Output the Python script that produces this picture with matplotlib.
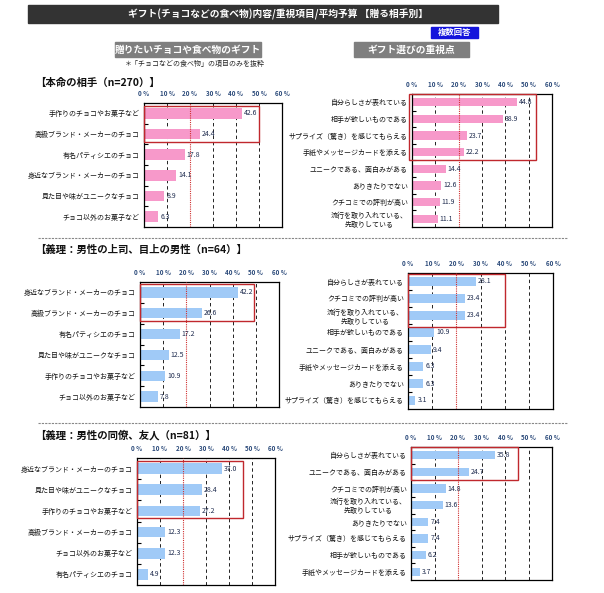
import matplotlib
matplotlib.use('Agg')
import matplotlib.pyplot as plt
from matplotlib.patches import Rectangle
import numpy as np

plt.rcParams['font.family'] = ['Noto Sans CJK JP', 'DejaVu Sans']

W, H = 604, 593

# ---------------- data ----------------
title = "ギフト(チョコなどの食べ物)内容/重視項目/平均予算 【贈る相手別】"
badge = "複数回答"
sub_left = "贈りたいチョコや食べ物のギフト"
sub_right = "ギフト選びの重視点"
note = "＊「チョコなどの食べ物」の項目のみを抜粋"
headers = ["【本命の相手（n=270）】",
           "【義理：男性の上司、目上の男性（n=64）】",
           "【義理：男性の同僚、友人（n=81）】"]
xticks = [0, 10, 20, 30, 40, 50, 60]
xtick_labels = ["0 %", "10 %", "20 %", "30 %", "40 %", "50 %", "60 %"]

cats_l1 = ["手作りのチョコやお菓子など", "高級ブランド・メーカーのチョコ", "有名パティシエのチョコ",
           "身近なブランド・メーカーのチョコ", "見た目や味がユニークなチョコ", "チョコ以外のお菓子など"]
vals_l1 = [42.6, 24.4, 17.8, 14.1, 8.9, 6.3]

cats_r1 = ["自分らしさが表れている", "相手が欲しいものである", "サプライズ（驚き）を感じてもらえる",
           "手紙やメッセージカードを添える", "ユニークである、面白みがある", "ありきたりでない",
           "クチコミでの評判が高い", "流行を取り入れている、\n先取りしている"]
vals_r1 = [44.8, 38.9, 23.7, 22.2, 14.4, 12.6, 11.9, 11.1]

cats_l2 = ["身近なブランド・メーカーのチョコ", "高級ブランド・メーカーのチョコ", "有名パティシエのチョコ",
           "見た目や味がユニークなチョコ", "手作りのチョコやお菓子など", "チョコ以外のお菓子など"]
vals_l2 = [42.2, 26.6, 17.2, 12.5, 10.9, 7.8]

cats_r2 = ["自分らしさが表れている", "クチコミでの評判が高い", "流行を取り入れている、\n先取りしている",
           "相手が欲しいものである", "ユニークである、面白みがある", "手紙やメッセージカードを添える",
           "ありきたりでない", "サプライズ（驚き）を感じてもらえる"]
vals_r2 = [28.1, 23.4, 23.4, 10.9, 9.4, 6.3, 6.3, 3.1]

cats_l3 = ["身近なブランド・メーカーのチョコ", "見た目や味がユニークなチョコ", "手作りのチョコやお菓子など",
           "高級ブランド・メーカーのチョコ", "チョコ以外のお菓子など", "有名パティシエのチョコ"]
vals_l3 = [37.0, 28.4, 27.2, 12.3, 12.3, 4.9]

cats_r3 = ["自分らしさが表れている", "ユニークである、面白みがある", "クチコミでの評判が高い",
           "流行を取り入れている、\n先取りしている", "ありきたりでない", "サプライズ（驚き）を感じてもらえる",
           "相手が欲しいものである", "手紙やメッセージカードを添える"]
vals_r3 = [35.8, 24.7, 14.8, 13.6, 7.4, 7.4, 6.2, 3.7]

PINK = "#F799CA"
BLUE = "#A0CAF7"
RED = "#C0282D"
TICKC = "#2B4A7A"
VALC = "#1E2B4E"

# panel: cats, vals, color, rect(px: x0,y0,x1,y1), highlight (x0,x1,y0,y1 in data units), bar height
panels = [
    (cats_l1, vals_l1, PINK, (144, 103, 282, 227), (0, 50, -0.36, 1.4), 0.53),
    (cats_r1, vals_r1, PINK, (412, 94, 552, 227), (-1.2, 53, -0.5, 3.5), 0.5),
    (cats_l2, vals_l2, BLUE, (140, 282, 279, 407), (0, 49, -0.4, 1.38), 0.5),
    (cats_r2, vals_r2, BLUE, (408, 273, 553, 409), (0, 40, -0.47, 2.65), 0.5),
    (cats_l3, vals_l3, BLUE, (137, 458, 275, 585), (0, 46, -0.35, 2.33), 0.5),
    (cats_r3, vals_r3, BLUE, (411, 447, 552, 580), (0, 45.5, -0.48, 1.5), 0.5),
]

fig = plt.figure(figsize=(W / 100, H / 100), dpi=100)


def fx(x):
    return x / W


def fy(y):
    return 1 - y / H


# title bar
fig.patches.append(Rectangle((fx(28), fy(23)), fx(498) - fx(28), fy(5) - fy(23),
                             transform=fig.transFigure, color="#333333", zorder=0))
fig.text(fx(278), fy(14), title, color="white", fontsize=7, fontweight="bold",
         ha="center", va="center")
# badge
fig.patches.append(Rectangle((fx(431), fy(38)), fx(478) - fx(431), fy(27) - fy(38),
                             transform=fig.transFigure, color="#1414DC", zorder=0))
fig.text(fx(454.5), fy(32.5), badge, color="white", fontsize=6, fontweight="bold",
         ha="center", va="center")
# subtitles
for (x0, x1, txt) in [(115, 261, sub_left), (354, 469, sub_right)]:
    fig.patches.append(Rectangle((fx(x0), fy(57)), fx(x1) - fx(x0), fy(42) - fy(57),
                                 transform=fig.transFigure, color="#7F7F7F", zorder=0))
    fig.text(fx((x0 + x1) / 2), fy(49.5), txt, color="white", fontsize=7, fontweight="bold",
             ha="center", va="center")
fig.text(fx(195), fy(64), note, color="#222222", fontsize=5, ha="center", va="center")

# section headers
for (y, txt) in zip([83, 250, 435], headers):
    fig.text(fx(35), fy(y), txt, color="#111111", fontsize=7.5, fontweight="bold",
             ha="left", va="center")

# separators
for y in [238, 423]:
    fig.add_artist(plt.Line2D([fx(38), fx(568)], [fy(y), fy(y)], transform=fig.transFigure,
                              color="#888888", lw=0.8, linestyle=(0, (2, 1))))

for cats, vals, col, (x0, y0, x1, y1), hl, bh in panels:
    ax = fig.add_axes([fx(x0), fy(y1), fx(x1) - fx(x0), fy(y0) - fy(y1)])
    n = len(cats)
    ypos = np.arange(n)
    ax.barh(ypos, vals, height=bh, color=col, zorder=2)
    ax.set_xlim(0, 60)
    ax.set_ylim(n - 0.5, -0.5)
    for g in [10, 30, 40, 50]:
        ax.axvline(g, color="#222222", lw=0.7, linestyle=(0, (3.5, 3)), zorder=1)
    ax.axvline(20, color="#D03030", lw=0.8, linestyle=(0, (1, 1)), zorder=3)
    for yv, v in zip(ypos, vals):
        ax.text(v + 0.8, yv, f"{v:.1f}", fontsize=5, color=VALC, va="center", ha="left", zorder=4)
    ax.xaxis.tick_top()
    ax.set_xticks(xticks)
    ax.set_xticklabels(xtick_labels, fontsize=4.5, color=TICKC, fontweight="bold")
    ax.tick_params(axis="x", length=0, pad=4)
    ax.set_yticks(ypos)
    ax.set_yticklabels(cats, fontsize=5, color="#111111", multialignment="center")
    ax.tick_params(axis="y", which="major", length=0, pad=3)
    ax.set_yticks(np.arange(n - 1) + 0.5, minor=True)
    ax.tick_params(axis="y", which="minor", direction="in", length=3, width=0.8, color="black")
    for s in ax.spines.values():
        s.set_linewidth(0.9)
        s.set_color("black")
    hx0, hx1, hy0, hy1 = hl
    ax.add_patch(Rectangle((hx0, hy0), hx1 - hx0, hy1 - hy0, fill=False, edgecolor=RED,
                           lw=1.0, clip_on=False, zorder=5))

fig.savefig("out.png", dpi=100)
